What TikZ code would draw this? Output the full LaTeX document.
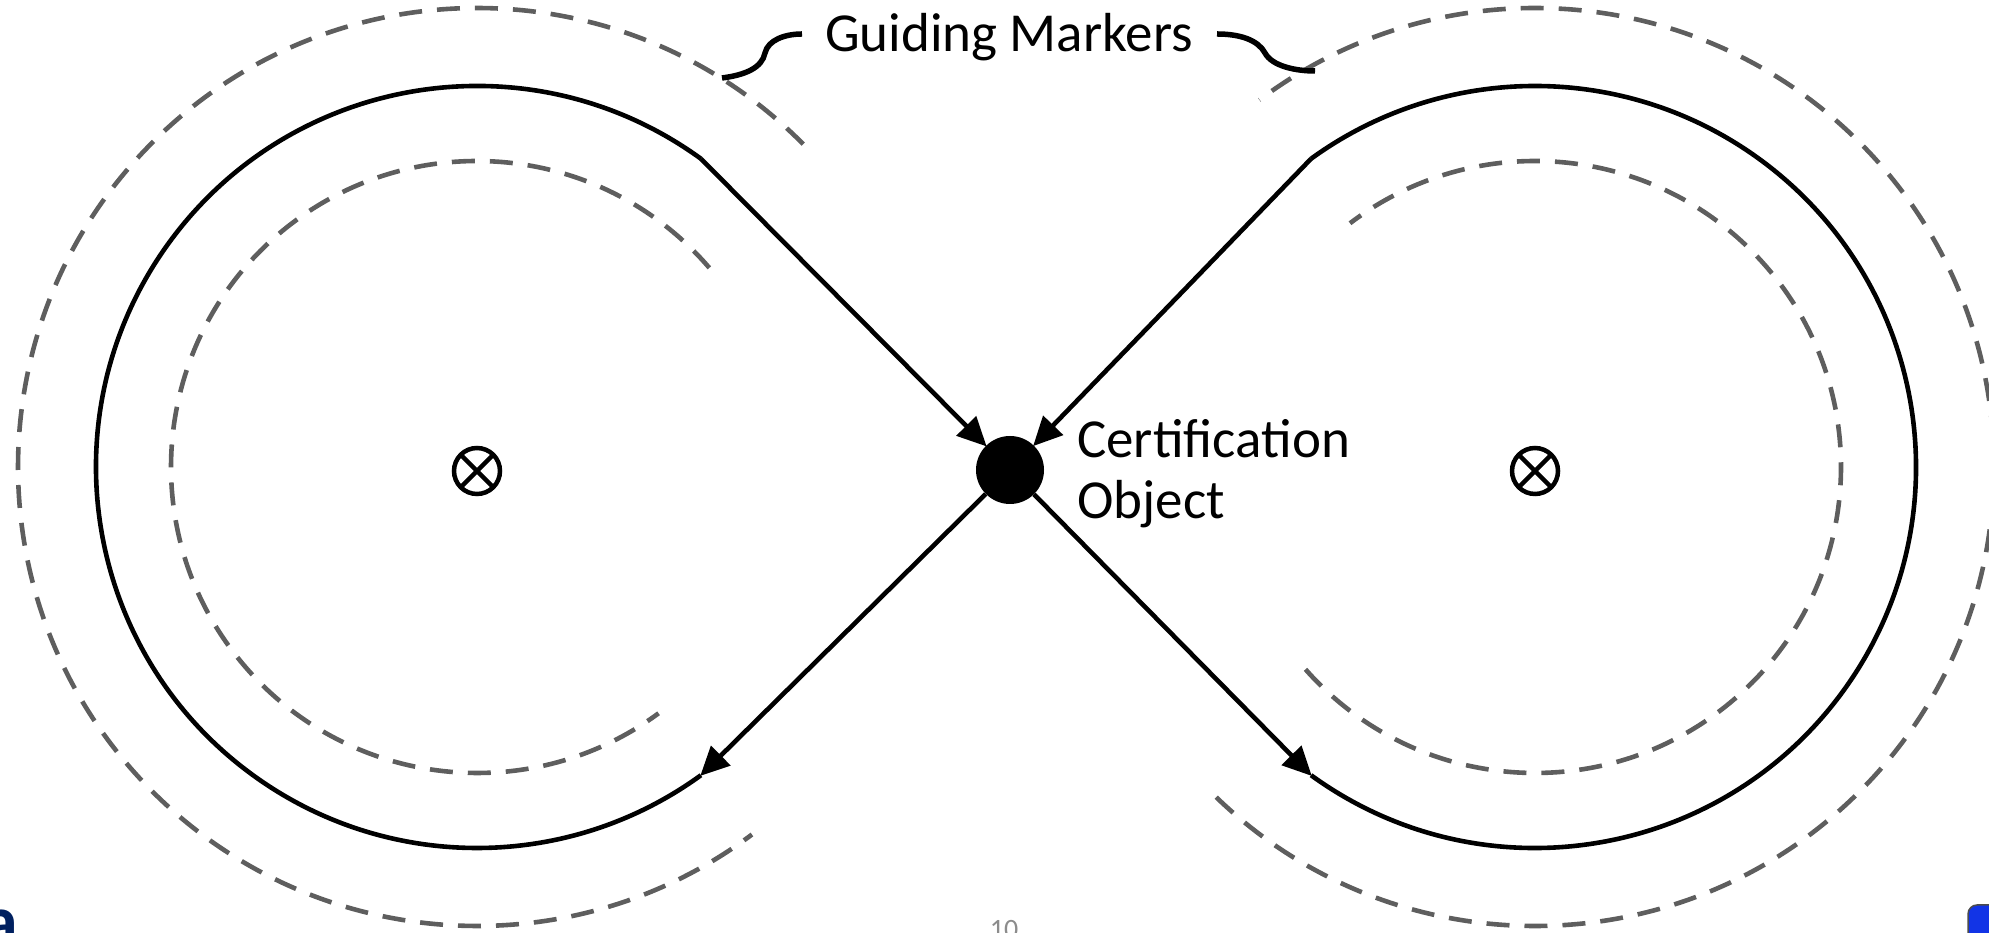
\documentclass[tikz,border=0pt]{standalone}
\usepackage{fontspec}
\setmainfont{Carlito}
\usetikzlibrary{arrows.meta}
\definecolor{guidegray}{HTML}{5E5E5E}
\definecolor{logonavy}{HTML}{002060}
\definecolor{pagegray}{HTML}{8C8C8C}
\definecolor{boxblue}{HTML}{1234E6}
\begin{document}
\begin{tikzpicture}[x=1pt,y=1pt,
  loop/.style={line width=4.6pt, black},
  guide/.style={line width=4.6pt, draw=guidegray, dash pattern=on 23pt off 15pt},
  flow/.style={line width=4.6pt, -{Triangle[length=29pt,width=27pt]}, shorten >=-1pt},
  brace/.style={line width=5.5pt, black},
  bigtext/.style={font=\fontsize{55}{61}\selectfont, inner sep=0pt},
  otimes/.style={circle, draw, line width=4.5pt, minimum size=46pt, inner sep=0pt}]
\useasboundingbox (0,0) rectangle (1989,933);
\clip (0,0) rectangle (1989,933);

% centres
\coordinate (L) at (477,466);
\coordinate (R) at (1535,466);

% dashed guiding markers
\draw[guide] ([shift={(40.6:306)}]L) arc[start angle=40.6, end angle=306.4, radius=306];
\draw[guide] ([shift={(44.7:459)}]L) arc[start angle=44.7, end angle=306.8, radius=459];
\draw[guide] ([shift={(-138.6:306)}]R) arc[start angle=-138.6, end angle=127.2, radius=306];
\draw[guide] ([shift={(-134:459)}]R) arc[start angle=-134, end angle=126.9, radius=459];

% solid loop arcs
\coordinate (ltop) at ([shift={(54:381)}]L);
\coordinate (lbot) at ([shift={(306:381)}]L);
\coordinate (rtop) at ([shift={(126:381)}]R);
\coordinate (rbot) at ([shift={(-126:381)}]R);
\draw[loop] (ltop) arc[start angle=54, end angle=306, radius=381];
\draw[loop] (rbot) arc[start angle=-126, end angle=126, radius=381];

% certification object
\node[circle, fill=black, minimum size=68pt, inner sep=0pt] (co) at (1010,463) {};

% flow arrows
\draw[flow] (ltop) -- (co);
\draw[flow] (rtop) -- (co);
\draw[flow] (co) -- (lbot);
\draw[flow] (co) -- (rbot);

% rotation axes
\node[otimes] (axl) at (477,462) {};
\draw[line width=4.5pt] ([shift={(45:23)}]axl.center) -- ([shift={(225:23)}]axl.center);
\draw[line width=4.5pt] ([shift={(135:23)}]axl.center) -- ([shift={(-45:23)}]axl.center);
\node[otimes] (axr) at (1535,462) {};
\draw[line width=4.5pt] ([shift={(45:23)}]axr.center) -- ([shift={(225:23)}]axr.center);
\draw[line width=4.5pt] ([shift={(135:23)}]axr.center) -- ([shift={(-45:23)}]axr.center);

% labels
\node[bigtext, anchor=base] (gm) at (1009,881) {Guiding Markers};
\node[bigtext, anchor=base west] (cert1) at (1077,475) {Certification};
\node[bigtext, anchor=base west] (cert2) at (1077,414) {Object};

% brace pieces
\draw[brace] (802,899) .. controls (785,899) and (768,893) .. (765,880)
  .. controls (762,865) and (745,858) .. (722,855);
\draw[brace] (1217,899) .. controls (1240,899) and (1258,893) .. (1265,880)
  .. controls (1272,867) and (1295,862) .. (1315,862);

% slide residue at the bottom edge
\node[font=\fontsize{70}{70}\selectfont\bfseries, text=logonavy, anchor=base east, inner sep=0pt] (logo) at (18,-12) {a};
\node[font=\fontsize{28}{28}\selectfont, text=pagegray, anchor=north, inner sep=0pt] (pg) at (1004,13) {10};
\draw[fill=boxblue, draw=black!70, line width=1.5pt, rounded corners=9pt] (1968,28) rectangle (2030,-40);
\end{tikzpicture}
\end{document}
